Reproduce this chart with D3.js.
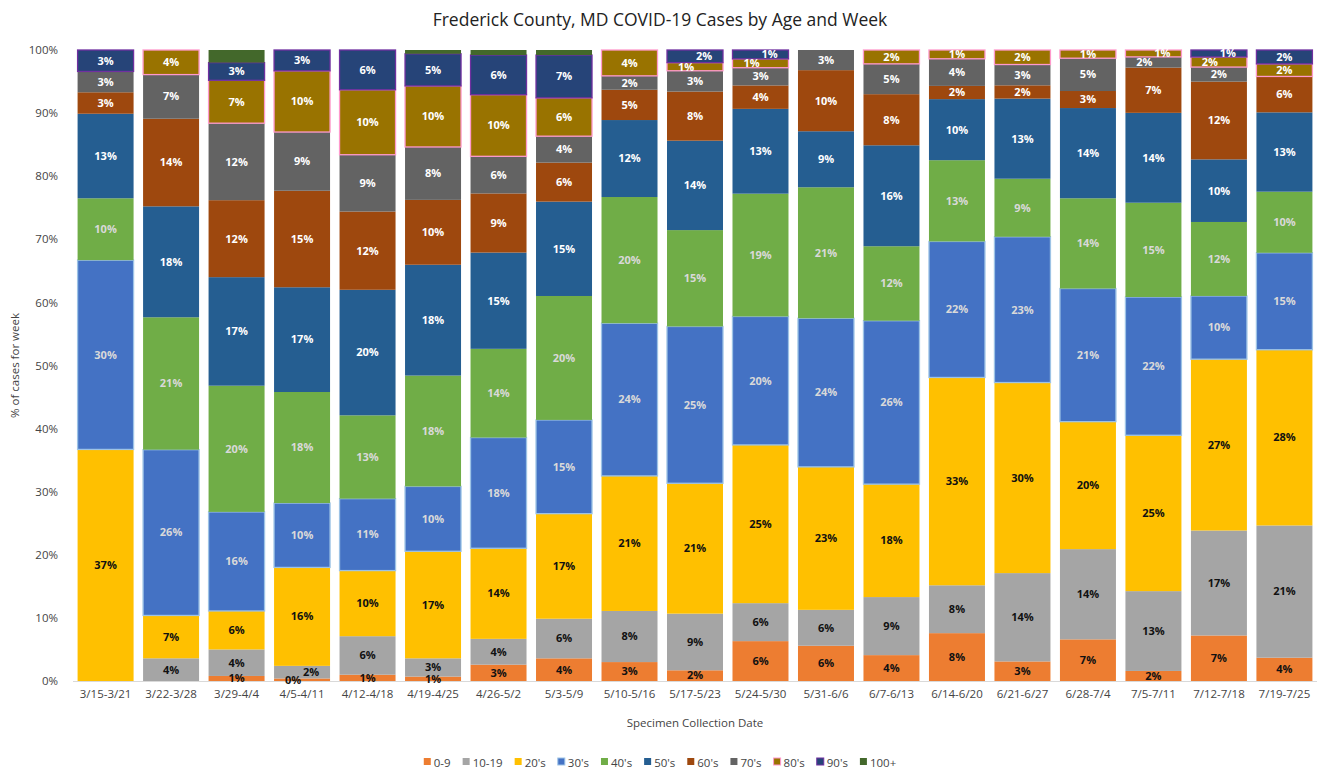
<!DOCTYPE html>
<html>
<head>
<meta charset="utf-8">
<script src="https://cdn.jsdelivr.net/npm/d3@7"></script>
<style>
  body { margin: 0; background: #fff; }
  svg { display: block; font-family: "Open Sans", sans-serif; }
</style>
</head>
<body>
<svg id="chart" width="1319" height="771"></svg>
<script>
// weeks (x categories)
var weeks = ["3/15-3/21", "3/22-3/28", "3/29-4/4", "4/5-4/11", "4/12-4/18", "4/19-4/25", "4/26-5/2",
  "5/3-5/9", "5/10-5/16", "5/17-5/23", "5/24-5/30", "5/31-6/6", "6/7-6/13", "6/14-6/20",
  "6/21-6/27", "6/28-7/4", "7/5-7/11", "7/12-7/18", "7/19-7/25"];

var ageGroups = ["0-9", "10-19", "20's", "30's", "40's", "50's", "60's", "70's", "80's", "90's", "100+"];

// share of weekly cases, %
var age0_9   = [0, 0, 0.8, 0.4, 1.0, 0.7, 2.6, 3.6, 3.0, 1.7, 6.3, 5.6, 4.1, 7.6, 3.1, 6.6, 1.6, 7.2, 3.7];
var age10_19 = [0, 3.6, 4.2, 2.0, 6.1, 2.9, 4.1, 6.3, 8.1, 9.0, 6.0, 5.7, 9.2, 7.6, 14.0, 14.3, 12.7, 16.6, 21.0];
var age20s   = [36.7, 6.8, 6.1, 15.6, 10.4, 17.0, 14.4, 16.7, 21.4, 20.7, 25.0, 22.7, 17.9, 33.0, 30.2, 20.2, 24.8, 27.1, 27.9];
var age30s   = [30.0, 26.3, 15.7, 10.2, 11.4, 10.3, 17.6, 14.9, 24.2, 24.9, 20.3, 23.6, 25.9, 21.6, 23.1, 21.1, 22.0, 10.0, 15.4];
var age40s   = [9.8, 21.0, 20.0, 17.6, 13.2, 17.6, 14.1, 19.7, 20.0, 15.3, 19.4, 20.8, 11.8, 12.9, 9.2, 14.3, 15.0, 11.7, 9.7];
var age50s   = [13.4, 17.6, 17.2, 16.6, 19.9, 17.6, 15.3, 15.0, 12.2, 14.2, 13.4, 8.9, 16.0, 9.7, 12.7, 14.3, 14.3, 9.9, 12.6];
var age60s   = [3.4, 13.9, 12.2, 15.3, 12.4, 10.3, 9.4, 6.2, 4.8, 7.8, 3.7, 9.7, 8.1, 2.1, 2.1, 2.7, 7.2, 12.3, 5.7];
var age70s   = [3.3, 7.0, 12.2, 9.3, 9.0, 8.4, 5.9, 4.2, 2.2, 3.3, 2.8, 3.2, 4.8, 4.3, 3.3, 5.2, 1.7, 2.3, 0];
var age80s   = [0, 3.9, 6.8, 9.7, 10.3, 9.7, 9.8, 6.1, 4.1, 1.3, 1.4, 0, 2.2, 1.4, 2.3, 1.3, 1.1, 1.6, 2.0];
var age90s   = [3.4, 0, 2.8, 3.3, 6.3, 5.1, 6.3, 6.8, 0, 2.0, 1.4, 0, 0, 0, 0, 0, 0, 1.1, 2.2];
var age100   = [0, 0, 2.0, 0, 0, 0.6, 0.8, 0.8, 0, 0, 0, 0, 0, 0, 0, 0, 0, 0, 0];

var yTicks = [0, 0.1, 0.2, 0.3, 0.4, 0.5, 0.6, 0.7, 0.8, 0.9, 1];

var series = [age0_9, age10_19, age20s, age30s, age40s, age50s, age60s, age70s, age80s, age90s, age100];
var colors = ["#ED7D31", "#A5A5A5", "#FFC000", "#4472C4", "#70AD47", "#255E91", "#9E480E", "#636363", "#997300", "#264478", "#43682B"];
var outlines = [null, null, null, "#9DC3E6", null, null, null, null, "#FF99CC", "#7030A0", null];
var labelColors = ["#111", "#111", "#111", "#D9D9D9", "#D9D9D9", "#fff", "#fff", "#fff", "#fff", "#fff", null];

var rows = weeks.map(function(w, i) {
    var r = { week: w };
    ageGroups.forEach(function(a, k) { r[a] = series[k][i]; });
    return r;
});

var svg = d3.select("#chart");
var plotTop = 50, plotBottom = 681, plotLeft = 73, plotRight = 1317;

var x = d3.scaleBand().domain(weeks).range([plotLeft, plotRight]).paddingInner(0.145).paddingOuter(0.07);
var y = d3.scaleLinear().domain([0, 1]).range([plotBottom, plotTop]);

var stacked = d3.stack().keys(ageGroups).offset(d3.stackOffsetExpand)(rows);

// title
svg.append("text")
    .attr("x", 660).attr("y", 26)
    .attr("text-anchor", "middle")
    .style("font-size", "17.5px").style("fill", "#222")
    .text("Frederick County, MD COVID-19 Cases by Age and Week");

// y axis (labels only)
var yAxis = svg.append("g")
    .attr("transform", "translate(" + (plotLeft - 12) + ",0)")
    .call(d3.axisLeft(y).tickValues(yTicks).tickFormat(d3.format(".0%")).tickSize(0));
yAxis.select(".domain").remove();
yAxis.selectAll("text").style("font-size", "11.5px").style("fill", "#444").style("font-family", "Open Sans");

// x axis
var xAxis = svg.append("g")
    .attr("transform", "translate(0," + plotBottom + ")")
    .call(d3.axisBottom(x).tickSize(0).tickPadding(9));
xAxis.select(".domain").attr("stroke", "#D9D9D9").attr("d", "M" + plotLeft + ",0.5H" + plotRight);
xAxis.selectAll("text").style("font-size", "11.5px").style("fill", "#444").style("font-family", "Open Sans");

// bars
var layer = svg.append("g").selectAll("g")
    .data(stacked)
    .enter().append("g")
    .attr("fill", function(d, i) { return colors[i]; });

layer.selectAll("rect")
    .data(function(d, i) { return d.map(function(p) { return { p: p, k: i }; }); })
    .enter().append("rect")
    .filter(function(d) { return d.p[1] - d.p[0] > 0; })
    .attr("x", function(d) { return x(d.p.data.week); })
    .attr("width", x.bandwidth())
    .attr("y", function(d) { return y(d.p[1]); })
    .attr("height", function(d) { return y(d.p[0]) - y(d.p[1]); })
    .attr("stroke", function(d) { return outlines[d.k] || "none"; })
    .attr("stroke-width", 1.3);

// data labels, nudged sideways when two small ones collide (like excel does)
var lbls = [];
weeks.forEach(function(w, i) {
    var prev = null;
    stacked.forEach(function(s, k) {
        var p = s[i];
        if (!labelColors[k] || p[1] - p[0] <= 0) return;
        var l = { x: x(w) + x.bandwidth() / 2, y: y((p[0] + p[1]) / 2), k: k,
                  t: Math.round((p[1] - p[0]) * 100) + "%" };
        if (prev && prev.y - l.y < 11) {
            prev.x -= 9; l.x += 9;
            l.y = Math.min(l.y, prev.y - 6);
        }
        lbls.push(l);
        prev = l;
    });
});

svg.append("g").selectAll("text")
    .data(lbls)
    .enter().append("text")
    .attr("x", function(d) { return d.x; })
    .attr("y", function(d) { return d.y; })
    .attr("dy", "0.35em")
    .attr("text-anchor", "middle")
    .style("font-size", "11px").style("font-weight", "bold")
    .style("fill", function(d) { return labelColors[d.k]; })
    .text(function(d) { return d.t; });

// axis titles
svg.append("text")
    .attr("transform", "translate(19," + ((plotTop + plotBottom) / 2) + ") rotate(-90)")
    .attr("text-anchor", "middle")
    .style("font-size", "11.5px").style("fill", "#444")
    .text("% of cases for week");

svg.append("text")
    .attr("x", (plotLeft + plotRight) / 2).attr("y", 727)
    .attr("text-anchor", "middle")
    .style("font-size", "11.5px").style("fill", "#444")
    .text("Specimen Collection Date");

// legend
var legend = svg.append("g").attr("transform", "translate(0,763)");
var items = legend.selectAll("g").data(ageGroups).enter().append("g");
items.append("rect")
    .attr("width", 7).attr("height", 7).attr("y", -5)
    .attr("fill", function(d, i) { return colors[i]; })
    .attr("stroke", function(d, i) { return outlines[i] || "none"; });
items.append("text")
    .attr("x", 10).attr("dy", "0.32em")
    .style("font-size", "11.5px").style("fill", "#444")
    .text(function(d) { return d; });
var pos = 0, offs = [];
items.each(function() {
    offs.push(pos);
    pos += 10 + d3.select(this).select("text").node().getComputedTextLength() + 12;
});
var start = 660 - (pos - 12) / 2;
items.attr("transform", function(d, i) { return "translate(" + (start + offs[i]) + ",0)"; });
</script>
</body>
</html>
